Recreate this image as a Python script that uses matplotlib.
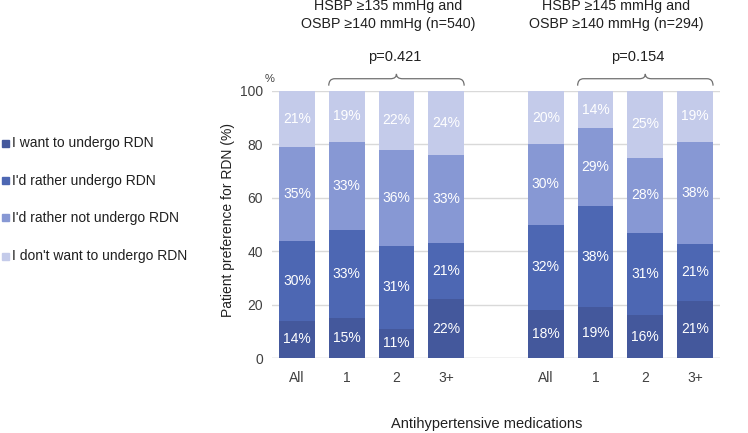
import matplotlib
matplotlib.use("Agg")
import matplotlib.pyplot as plt
from matplotlib.patches import Rectangle, PathPatch
from matplotlib.path import Path
import numpy as np

plt.rcParams['font.family'] = ['Liberation Sans', 'DejaVu Sans']

categories = ["All", "1", "2", "3+", "All", "1", "2", "3+"]
positions = [0, 1, 2, 3, 5, 6, 7, 8]
series_names = ["I want to undergo RDN", "I'd rather undergo RDN",
                "I'd rather not undergo RDN", "I don't want to undergo RDN"]
want = [14, 15, 11, 22, 18, 19, 16, 21.4]
rather = [30, 33, 31, 21, 32, 38, 31, 21.4]
rather_not = [35, 33, 36, 33, 30, 29, 28, 38.2]
dont_want = [21, 19, 22, 24, 20, 14, 25, 19]
group_titles = ["HSBP \u2265135 mmHg and\nOSBP \u2265140 mmHg (n=540)",
                "HSBP \u2265145 mmHg and\nOSBP \u2265140 mmHg (n=294)"]
p_values = ["p=0.421", "p=0.154"]
colors = ["#44589C", "#4D67B3", "#8798D4", "#C4CBEA"]

W, H = 748, 433
fig = plt.figure(figsize=(W / 100, H / 100), dpi=100)
ax = fig.add_axes([272 / W, 1 - 358 / H, (720 - 272) / W, (358 - 91) / H])

series = [want, rather, rather_not, dont_want]
bottom = np.zeros(len(positions))
bw = 0.72
for vals, col in zip(series, colors):
    vals = np.array(vals, dtype=float)
    ax.bar(positions, vals, bw, bottom=bottom, color=col, zorder=3)
    for x, v, b in zip(positions, vals, bottom):
        ax.text(x, b + v / 2, f"{v:.0f}%", ha="center", va="center",
                color="white", fontsize=10, zorder=4)
    bottom += vals

ax.set_xlim(-0.5, 8.5)
ax.set_ylim(0, 100)
ax.set_yticks([0, 20, 40, 60, 80, 100])
ax.set_xticks(positions)
ax.set_xticklabels(categories)
ax.tick_params(axis="both", length=0, labelsize=10, colors="#404040")
ax.tick_params(axis="x", pad=9)
ax.tick_params(axis="y", pad=6.5)
for s in ax.spines.values():
    s.set_visible(False)
ax.yaxis.grid(True, color="#D9D9D9", linewidth=1, zorder=0)
ax.axhline(0, color="#D9D9D9", linewidth=1, zorder=0)

fig.text(228 / W, 1 - 220 / H, "Patient preference for RDN (%)", fontsize=10, rotation=90,
         ha="center", va="center", color="#202020")
fig.text(487 / W, 1 - 424 / H, "Antihypertensive medications", fontsize=10.5,
         ha="center", va="center", color="#202020")

# "%" marker
fig.text(270 / W, 1 - 79 / H, "%", fontsize=8, color="#404040", ha="center", va="center")


def brace(x0, x1, y0, y1, ytip):
    xc = (x0 + x1) / 2
    d = 0.12
    verts = [(x0, y0), (x0, y1), (x0 + d, y1), (x0 + d, y1),
             (xc - d, y1), (xc, y1), (xc, ytip),
             (xc, y1), (xc + d, y1), (x1 - d, y1),
             (x1, y1), (x1, y0)]
    codes = [Path.MOVETO, Path.CURVE3, Path.CURVE3, Path.LINETO,
             Path.LINETO, Path.CURVE3, Path.CURVE3,
             Path.CURVE3, Path.CURVE3, Path.LINETO,
             Path.CURVE3, Path.CURVE3]
    p = PathPatch(Path(verts, codes), fill=False, edgecolor="#707070",
                  linewidth=0.9, clip_on=False)
    ax.add_patch(p)


brace(1 - bw / 2, 3 + bw / 2, 102.0, 104.6, 106.4)
brace(6 - bw / 2, 8 + bw / 2, 102.0, 104.6, 106.4)

fig.text(395 / W, 1 - 57 / H, p_values[0], fontsize=10.5, ha="center", va="center", color="#202020")
fig.text(638 / W, 1 - 57 / H, p_values[1], fontsize=10.5, ha="center", va="center", color="#202020")
fig.text(388 / W, 1 - 15 / H, group_titles[0], fontsize=10.3, ha="center", va="center",
         color="#202020", linespacing=1.35)
fig.text(616 / W, 1 - 15 / H, group_titles[1], fontsize=10.3, ha="center", va="center",
         color="#202020", linespacing=1.35)

# legend
leg_y = [143, 181, 218, 256]
for name, col, yy in zip(series_names, colors, leg_y):
    fig.add_artist(Rectangle((2 / W, 1 - (yy + 3.5) / H), 7 / W, 7 / H,
                             transform=fig.transFigure, color=col))
    fig.text(12 / W, 1 - yy / H, name, fontsize=10, ha="left", va="center", color="#202020")

fig.savefig("out.png", dpi=100)
